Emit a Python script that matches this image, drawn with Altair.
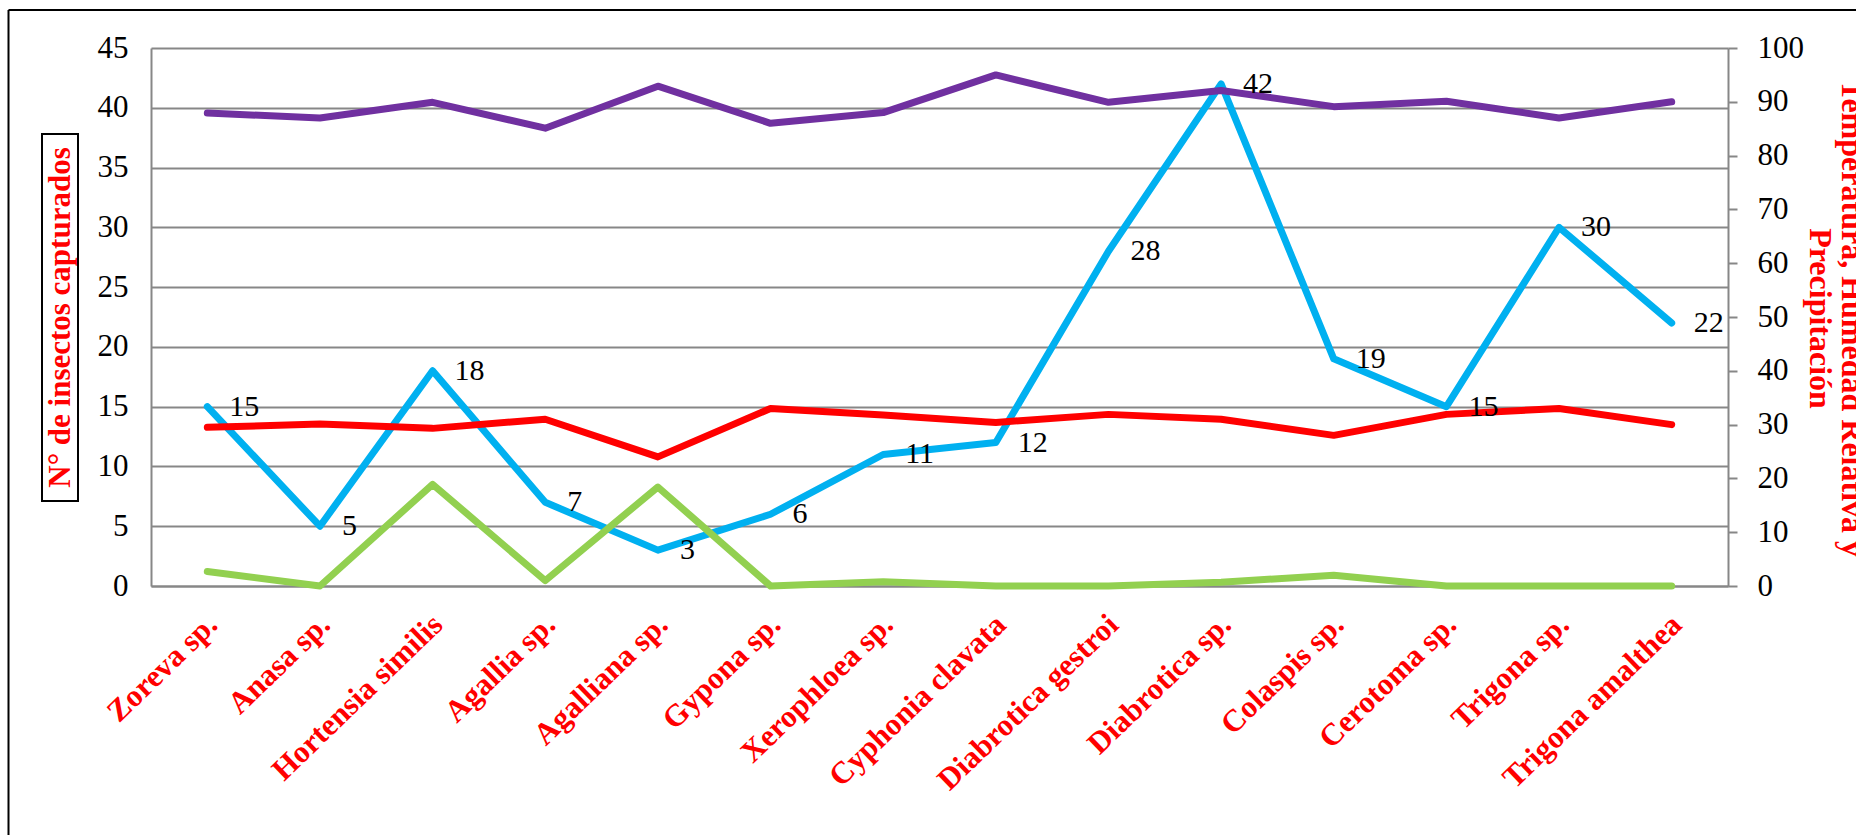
import altair as alt
import pandas as pd

especies = ["Zoreva sp.", "Anasa sp.", "Hortensia similis", "Agallia sp.",
            "Agalliana sp.", "Gypona sp.", "Xerophloea sp.", "Cyphonia clavata",
            "Diabrotica gestroi", "Diabrotica sp.", "Colaspis sp.", "Cerotoma sp.",
            "Trigona sp.", "Trigona amalthea"]
insectos = [15, 5, 18, 7, 3, 6, 11, 12, 28, 42, 19, 15, 30, 22]
temperatura = [29.5, 30.1, 29.3, 31.0, 24.0, 33.0, 31.8, 30.4, 31.9, 31.0, 28.0, 31.9, 33.0, 30.0]
humedad = [87.9, 87.0, 89.9, 85.1, 92.9, 86.0, 88.0, 95.0, 89.9, 92.1, 89.1, 90.1, 87.0, 90.0]
precipitacion = [2.7, 0.0, 18.9, 1.0, 18.4, 0.0, 0.8, 0.0, 0.0, 0.7, 2.0, 0.0, 0.0, 0.0]

left_ticks = list(range(0, 50, 5))
right_ticks = list(range(0, 110, 10))
series_names = ["Temperatura", "Humedad", "Precipitación"]
series_colors = ["#FF0000", "#7030A0", "#92D050"]

df = pd.DataFrame({
    "especie": especies,
    "idx": list(range(len(especies))),
    "insectos": insectos,
    "Temperatura": temperatura,
    "Humedad": humedad,
    "Precipitación": precipitacion,
})

W, H = 1577, 538
PAD_L, PAD_T = 151, 48
SERIF = "Liberation Serif"
GRID = "#878787"
LW = 7

x_enc = alt.X(
    "especie:N", sort=especies,
    scale=alt.Scale(type="point", padding=0.5),
    axis=alt.Axis(
        title=None, labelAngle=-44, labelAlign="right", labelBaseline="middle",
        labelFont=SERIF, labelFontSize=31, labelFontWeight="bold", labelColor="#FF0000",
        labelPadding=34, labelOffset=5, ticks=False, tickSize=0,
        domainColor=GRID, domainWidth=2,
        grid=False, labelOverlap=False, labelLimit=400,
    ),
)

left_axis = alt.Axis(
    values=left_ticks, orient="left", grid=True, gridColor=GRID, gridWidth=2,
    ticks=False, tickSize=0, domainColor=GRID, domainWidth=2,
    labelFont=SERIF, labelFontSize=31, labelColor="black", labelPadding=23,
    title="N° de insectos capturados", titleFont=SERIF, titleFontSize=31,
    titleFontWeight="bold", titleColor="#FF0000", titleAngle=270,
    titleX=-91, titleY=H / 2, titleAlign="center", titleBaseline="middle",
)

right_axis = alt.Axis(
    values=right_ticks, orient="right", grid=False,
    ticks=True, tickSize=9, tickColor=GRID, tickWidth=2,
    domainColor=GRID, domainWidth=2,
    labelFont=SERIF, labelFontSize=31, labelColor="black", labelPadding=20,
    title=["Temperatura, Humedad Relativa y", "Precipitación"],
    titleFont=SERIF, titleFontSize=32, titleFontWeight="bold", titleColor="#FF0000",
    titleAngle=90, titleX=123, titleY=270, titleAlign="center",
    titleBaseline="middle", titleLineHeight=32,
)

blue = alt.Chart(df).mark_line(
    color="#00B0F0", strokeWidth=LW, strokeCap="round", strokeJoin="round"
).encode(
    x=x_enc,
    y=alt.Y("insectos:Q", scale=alt.Scale(domain=[0, 45], nice=False, zero=True), axis=left_axis),
    order=alt.Order("idx:Q"),
)

right = alt.Chart(df).transform_fold(
    series_names, as_=["serie", "valor"]
).mark_line(strokeWidth=LW, strokeCap="round", strokeJoin="round").encode(
    x=x_enc,
    y=alt.Y("valor:Q", scale=alt.Scale(domain=[0, 100], nice=False), axis=right_axis),
    color=alt.Color("serie:N", scale=alt.Scale(domain=series_names, range=series_colors), legend=None),
    order=alt.Order("idx:Q"),
)

labels = alt.Chart(df).mark_text(
    align="left", baseline="middle", dx=22, font=SERIF, fontSize=30, color="black"
).encode(
    x=x_enc,
    y=alt.Y("insectos:Q", scale=alt.Scale(domain=[0, 45], nice=False), axis=None),
    text=alt.Text("insectos:Q"),
)

one = alt.Data(values=[{"k": 1}])
border_left = alt.Chart(one).mark_rule(color="black", strokeWidth=2).encode(
    x=alt.value(8.5 - PAD_L), y=alt.value(10 - PAD_T), y2=alt.value(900)
)
border_top = alt.Chart(one).mark_rule(color="black", strokeWidth=2).encode(
    y=alt.value(10 - PAD_T), x=alt.value(8.5 - PAD_L), x2=alt.value(1900)
)
title_box = alt.Chart(one).mark_rect(
    fill="transparent", stroke="black", strokeWidth=2
).encode(
    x=alt.value(-109), x2=alt.value(-73), y=alt.value(86), y2=alt.value(453)
)

chart = alt.layer(
    blue, right, labels, border_left, border_top, title_box
).resolve_scale(
    y="independent"
).properties(
    width=W, height=H,
    autosize=alt.AutoSizeParams(type="none"),
    padding={"left": PAD_L, "top": PAD_T, "right": 1856 - PAD_L - W, "bottom": 835 - PAD_T - H},
    background="white",
).configure_view(stroke="transparent")

chart.save("out.html", embed_options={"renderer": "svg", "actions": False})
